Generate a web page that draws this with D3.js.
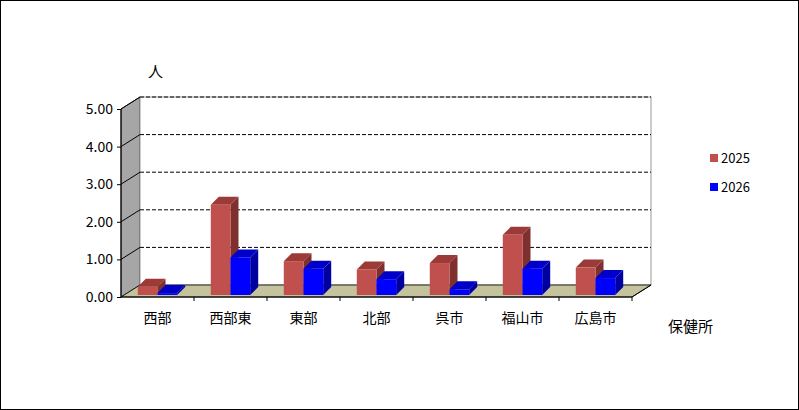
<!DOCTYPE html>
<html><head><meta charset="utf-8">
<script src="https://cdn.jsdelivr.net/npm/d3@7"></script>
<style>body{margin:0;background:#fff}svg{display:block}text{font-family:"Noto Sans CJK JP",sans-serif}</style>
</head><body><svg id="c" width="799" height="410"></svg>
<script>
// data
const categories = ["西部","西部東","東部","北部","呉市","福山市","広島市"];
const seriesNames = ["2025","2026"];
const v2025 = [0.22,2.4,0.9,0.68,0.85,1.6,0.73];
const v2026 = [0.05,1.0,0.7,0.42,0.15,0.7,0.45];
const yTicks = [0,1,2,3,4,5];
const colors = {front:["#c0504d","#0000ff"], top:["#9b3a37","#0000c8"], side:["#7f2f2d","#0000a0"]};

const svg = d3.select("#c");
svg.append("rect").attr("x",0.5).attr("y",0.5).attr("width",798).attr("height",409).attr("fill","#fff").attr("stroke","#000");

const x0 = 121, x1 = 632, dx = 19, dy = -12;
const y = d3.scaleLinear().domain([0,5]).range([297,109]);
const x = d3.scaleBand().domain(categories).range([x0,x1]);
const g = svg.append("g");

// walls
g.append("polygon").attr("points",[[x0,y(0)],[x0+dx,y(0)+dy],[x0+dx,y(5)+dy],[x0,y(5)]].join(" "))
  .attr("fill","#a6a6a6").attr("stroke","#000").attr("stroke-width",0.8);
g.append("rect").attr("x",x0+dx).attr("y",y(5)+dy).attr("width",x1-x0).attr("height",y(0)-y(5))
  .attr("fill","#fff").attr("stroke","#999");
g.append("polygon").attr("points",[[x0,y(0)],[x0+dx,y(0)+dy],[x1+dx,y(0)+dy],[x1,y(0)]].join(" "))
  .attr("fill","#c4c39e").attr("stroke","#000").attr("stroke-width",0.8);
yTicks.slice(1).forEach(t=>{
  g.append("line").attr("x1",x0+dx).attr("x2",x1+dx).attr("y1",y(t)+dy).attr("y2",y(t)+dy)
    .attr("stroke","#000").attr("stroke-dasharray","4,2");
  g.append("line").attr("x1",x0).attr("x2",x0+dx).attr("y1",y(t)).attr("y2",y(t)+dy).attr("stroke","#000");
});

// bars
const bw = x.bandwidth()*0.27, bdx = 8, bdy = -8;
categories.forEach((c,i)=>{
  [v2025[i],v2026[i]].forEach((v,s)=>{
    const bx = x(c)+x.bandwidth()*0.23+s*bw, by0 = y(0)-2, by = y(v)-2;
    g.append("polygon").attr("points",[[bx+bw,by0],[bx+bw+bdx,by0+bdy],[bx+bw+bdx,by+bdy],[bx+bw,by]].join(" ")).attr("fill",colors.side[s]);
    g.append("polygon").attr("points",[[bx,by],[bx+bdx,by+bdy],[bx+bw+bdx,by+bdy],[bx+bw,by]].join(" ")).attr("fill",colors.top[s]);
    g.append("rect").attr("x",bx).attr("y",by).attr("width",bw).attr("height",by0-by).attr("fill",colors.front[s]);
  });
});

// axes
g.append("line").attr("x1",x0).attr("x2",x0).attr("y1",y(0)).attr("y2",y(5)).attr("stroke","#000");
g.append("line").attr("x1",x0).attr("x2",x1).attr("y1",y(0)).attr("y2",y(0)).attr("stroke","#000");
g.append("line").attr("x1",x1).attr("x2",x1+dx).attr("y1",y(0)).attr("y2",y(0)+dy).attr("stroke","#000");
const ax = g.append("g").attr("transform",`translate(${x0},0)`).call(d3.axisLeft(y).tickValues(yTicks).tickFormat(d3.format(".2f")).tickSize(4));
ax.select(".domain").remove();
ax.selectAll("text").attr("font-family","Liberation Sans,Arial").attr("font-size",14).attr("fill","#000").attr("dx",-1);
const bx = g.append("g").attr("transform",`translate(0,${y(0)})`).call(d3.axisBottom(x).tickSize(4).tickPadding(12));
bx.select(".domain").remove();
bx.selectAll(".tick line").attr("x1",x.bandwidth()/2).attr("x2",x.bandwidth()/2);
bx.selectAll("text").attr("font-size",14).attr("fill","#000");

svg.append("text").attr("x",148).attr("y",77).attr("font-size",15).text("人");
svg.append("text").attr("x",668).attr("y",332).attr("font-size",15).text("保健所");

// legend
seriesNames.forEach((n,s)=>{
  svg.append("rect").attr("x",710).attr("y",154+s*29).attr("width",8).attr("height",8).attr("fill",colors.front[s]);
  svg.append("text").attr("x",721).attr("y",163+s*29).attr("font-family","Liberation Sans,Arial").attr("font-size",13).text(n);
});
</script></body></html>
